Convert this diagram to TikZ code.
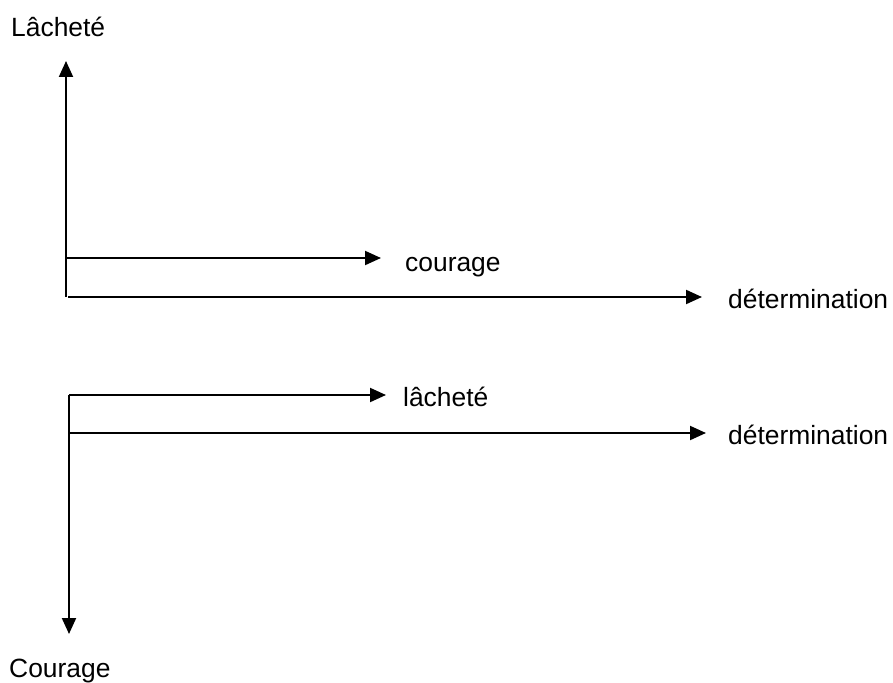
\documentclass[tikz,border=0pt]{standalone}
\usepackage{fontspec}
\setmainfont{Liberation Sans}
\usetikzlibrary{arrows.meta}
\begin{document}
\begin{tikzpicture}[x=1pt,y=-1pt,
  axis/.style={line width=2pt,-{Triangle[length=16pt,width=14pt]}},
  lbl/.style={anchor=base west,inner sep=0pt,font=\fontsize{26.4}{30}\selectfont}]
\useasboundingbox (0,0) rectangle (893,682);
% top group
\coordinate (o1) at (66,297);
\coordinate (t1) at (66,61);
\coordinate (c1) at (66,258);
\coordinate (c1e) at (381,258);
\coordinate (d1) at (68,297);
\coordinate (d1e) at (702,297);
\draw[axis] (o1) -- (t1);
\draw[axis] (c1) -- (c1e);
\draw[axis] (d1) -- (d1e);
\node[lbl] (L1) at (11,37) {Lâcheté};
\node[lbl] (cour) at (405,271) {courage};
\node[lbl] (det1) at (728,308) {détermination};
% bottom group
\coordinate (o2) at (69,395);
\coordinate (b2) at (69,634);
\coordinate (l2e) at (386,395);
\coordinate (d2) at (69,433);
\coordinate (d2e) at (706,433);
\draw[axis] (o2) -- (b2);
\draw[axis] (o2) -- (l2e);
\draw[axis] (d2) -- (d2e);
\node[lbl] (lach) at (403,406) {lâcheté};
\node[lbl] (det2) at (728,444) {détermination};
\node[lbl] (Cour) at (9,677) {Courage};
\end{tikzpicture}
\end{document}
